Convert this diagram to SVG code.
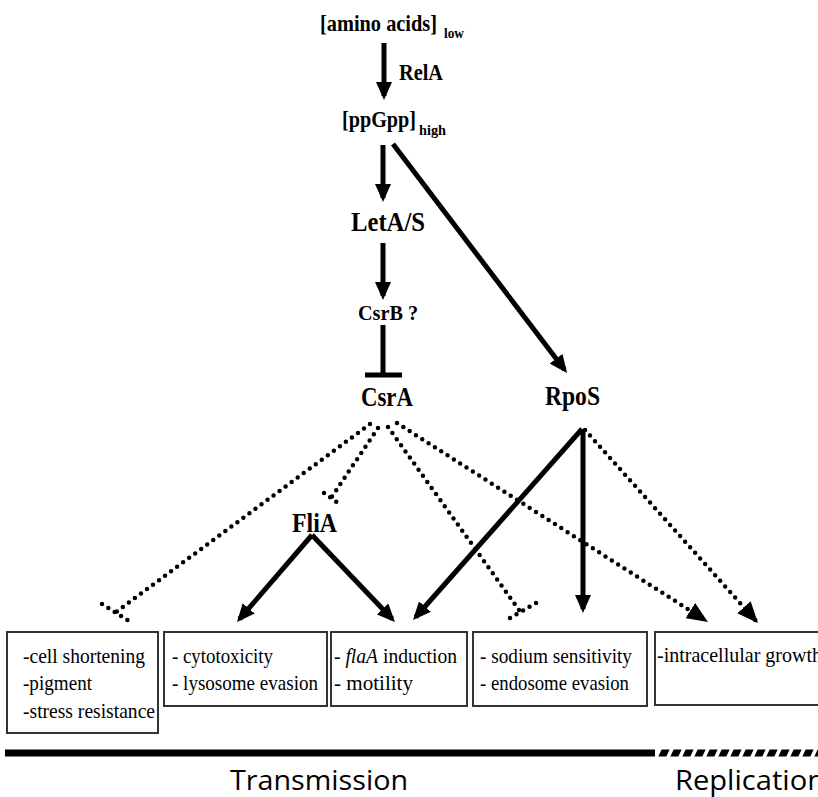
<svg xmlns="http://www.w3.org/2000/svg" width="818" height="797" viewBox="0 0 818 797">
<style>
.n{font-family:"Liberation Serif","Times New Roman",serif;font-weight:bold;fill:#000}
.b{font-family:"Liberation Serif","Times New Roman",serif;font-size:22px;fill:#000}
.box{fill:#fff;stroke:#333;stroke-width:2}
.s{stroke:#000;stroke-width:5;fill:none}
.d{stroke:#000;stroke-width:4.5;fill:none;stroke-dasharray:0 7.5;stroke-linecap:round}
.p{font-family:"Open Sans","Noto Sans",sans-serif;font-size:28px;fill:#000}
</style>
<defs>
<marker id="ah" markerUnits="userSpaceOnUse" markerWidth="18" markerHeight="16" refX="14" refY="8" orient="auto">
<path d="M0,0 L18,8 L0,16 z" fill="#000"/>
</marker>
<marker id="ahb" markerUnits="userSpaceOnUse" markerWidth="21" markerHeight="18" refX="17" refY="9" orient="auto">
<path d="M0,0 L21,9 L0,18 z" fill="#000"/>
</marker>
</defs>
<rect x="0" y="0" width="818" height="797" fill="#fff"/>

<g id="connectors">
<line class="s" x1="384" y1="43" x2="384" y2="96" marker-end="url(#ah)"/>
<line class="s" x1="383" y1="145" x2="383" y2="198" marker-end="url(#ah)"/>
<line class="s" x1="383" y1="243" x2="383" y2="296" marker-end="url(#ah)"/>
<line class="s" x1="383" y1="325" x2="383" y2="375"/>
<line x1="365" y1="375" x2="402" y2="375" stroke="#000" stroke-width="5"/>
<line class="s" x1="393" y1="144" x2="564.6" y2="369.8" marker-end="url(#ah)"/>
<line class="s" x1="582" y1="429" x2="415.7" y2="617" marker-end="url(#ah)"/>
<line class="s" x1="583" y1="429" x2="583" y2="609" marker-end="url(#ah)"/>
<line class="s" x1="312" y1="535" x2="239.6" y2="619" marker-end="url(#ah)"/>
<line class="s" x1="312" y1="535" x2="392.2" y2="619.1" marker-end="url(#ah)"/>
<line class="d" x1="370" y1="424" x2="116" y2="612"/>
<line class="d" x1="102" y1="604" x2="129" y2="621"/>
<line class="d" x1="378" y1="428" x2="331" y2="498"/>
<line class="d" x1="324" y1="493" x2="338" y2="503"/>
<line class="d" x1="388" y1="427" x2="519" y2="610"/>
<line class="d" x1="510" y1="618" x2="538" y2="602"/>
<line class="d" x1="397" y1="423" x2="704.6" y2="619.8" marker-end="url(#ahb)"/>
<line class="d" x1="585" y1="430" x2="755.3" y2="620" marker-end="url(#ahb)"/>
<text class="n" x="399" y="80" font-size="23" textLength="44" lengthAdjust="spacingAndGlyphs">RelA</text>
</g>

<g id="amino-acids">
<text class="n" x="320" y="31" font-size="24" textLength="117" lengthAdjust="spacingAndGlyphs">[amino acids]</text>
<text class="n" x="444" y="38" font-size="15" textLength="20" lengthAdjust="spacingAndGlyphs">low</text>
</g>
<g id="ppGpp">
<text class="n" x="342" y="127" font-size="24" textLength="74" lengthAdjust="spacingAndGlyphs">[ppGpp]</text>
<text class="n" x="419" y="135" font-size="15" textLength="27" lengthAdjust="spacingAndGlyphs">high</text>
</g>
<g id="LetAS"><text class="n" x="351" y="231" font-size="27" textLength="74" lengthAdjust="spacingAndGlyphs">LetA/S</text></g>
<g id="CsrB"><text class="n" x="358" y="320" font-size="22" textLength="60" lengthAdjust="spacingAndGlyphs">CsrB ?</text></g>
<g id="CsrA"><text class="n" x="361" y="406" font-size="27" textLength="52" lengthAdjust="spacingAndGlyphs">CsrA</text></g>
<g id="RpoS"><text class="n" x="545" y="405" font-size="27" textLength="55" lengthAdjust="spacingAndGlyphs">RpoS</text></g>
<g id="FliA"><text class="n" x="292" y="532" font-size="27" textLength="45" lengthAdjust="spacingAndGlyphs">FliA</text></g>

<g id="box1">
<rect class="box" x="7" y="632" width="151" height="101"/>
<text class="b" x="23" y="663" textLength="122" lengthAdjust="spacingAndGlyphs">-cell shortening</text>
<text class="b" x="23" y="690" textLength="69" lengthAdjust="spacingAndGlyphs">-pigment</text>
<text class="b" x="23" y="718" textLength="132" lengthAdjust="spacingAndGlyphs">-stress resistance</text>
</g>
<g id="box2">
<rect class="box" x="164" y="632" width="163" height="74"/>
<text class="b" x="172" y="663" textLength="101" lengthAdjust="spacingAndGlyphs">- cytotoxicity</text>
<text class="b" x="172" y="690" textLength="146" lengthAdjust="spacingAndGlyphs">- lysosome evasion</text>
</g>
<g id="box3">
<rect class="box" x="331" y="632" width="136" height="74"/>
<text class="b" x="334" y="663" textLength="123" lengthAdjust="spacingAndGlyphs">- <tspan font-style="italic">flaA</tspan> induction</text>
<text class="b" x="334" y="690" textLength="79" lengthAdjust="spacingAndGlyphs">- motility</text>
</g>
<g id="box4">
<rect class="box" x="473" y="632" width="174" height="74"/>
<text class="b" x="480" y="663" textLength="152" lengthAdjust="spacingAndGlyphs">- sodium sensitivity</text>
<text class="b" x="480" y="690" textLength="149" lengthAdjust="spacingAndGlyphs">- endosome evasion</text>
</g>
<g id="box5">
<rect class="box" x="655" y="632" width="180" height="73"/>
<text class="b" x="657" y="662" textLength="165" lengthAdjust="spacingAndGlyphs">-intracellular growth</text>
</g>

<g id="timeline">
<rect x="5" y="749.5" width="650" height="7" fill="#000"/>
<g transform="translate(0,753) skewX(-25)">
<line x1="660" y1="0" x2="830" y2="0" stroke="#000" stroke-width="7" stroke-dasharray="8 4"/>
</g>
<text class="p" x="230" y="790" textLength="178" lengthAdjust="spacingAndGlyphs">Transmission</text>
<text class="p" x="675" y="790" textLength="150" lengthAdjust="spacingAndGlyphs">Replication</text>
</g>
</svg>
